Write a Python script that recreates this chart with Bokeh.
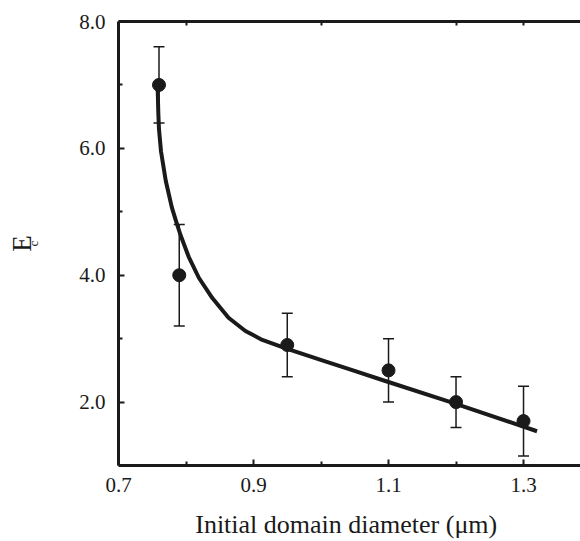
from bokeh.plotting import figure
from bokeh.models import (Range1d, LinearAxis, FixedTicker, PrintfTickFormatter,
                          Whisker, ColumnDataSource, TeeHead)
from bokeh.embed import file_html
from bokeh.resources import INLINE

# ---- data ----
diam = [0.76, 0.79, 0.95, 1.10, 1.20, 1.30]
ec = [7.0, 4.0, 2.9, 2.5, 2.0, 1.7]
err_hi = [7.6, 4.8, 3.4, 3.0, 2.4, 2.25]
err_lo = [6.4, 3.2, 2.4, 2.0, 1.6, 1.15]

curve_x = [0.758, 0.759, 0.760, 0.763, 0.770, 0.779, 0.785, 0.792, 0.804, 0.819,
           0.839, 0.863, 0.888, 0.913, 0.950, 1.004, 1.044, 1.093, 1.192, 1.320]
curve_y = [6.95, 6.55, 6.30, 5.95, 5.49, 5.07, 4.86, 4.63, 4.29, 3.96,
           3.64, 3.33, 3.12, 2.98, 2.84, 2.65, 2.51, 2.34, 2.00, 1.54]

x_ticks = [0.7, 0.9, 1.1, 1.3]
x_minor = [0.8, 1.0, 1.2]
y_ticks = [2.0, 4.0, 6.0, 8.0]
y_minor = [3.0, 5.0, 7.0]

FONT = "Liberation Serif"
INK = "#1a1a1a"

W, H = 580, 541
p = figure(width=W, height=H, output_backend="svg", toolbar_location=None,
           x_range=Range1d(0.7, 1.3844), y_range=Range1d(1.0, 8.0),
           x_axis_location=None, y_axis_location=None,
           min_border_left=118, min_border_right=0,
           min_border_top=21, min_border_bottom=76)
p.outline_line_color = None
for g in p.grid:
    g.visible = False


def style(ax):
    ax.axis_line_width = 3
    ax.axis_line_color = INK
    ax.major_tick_in = 6
    ax.major_tick_out = 0
    ax.minor_tick_in = 4
    ax.minor_tick_out = 0
    ax.major_tick_line_width = 2
    ax.minor_tick_line_width = 2
    ax.major_tick_line_color = INK
    ax.minor_tick_line_color = INK
    ax.major_label_text_font = FONT
    ax.major_label_text_font_size = "21px"
    ax.major_label_text_color = INK
    ax.axis_label_text_font = FONT
    ax.axis_label_text_font_style = "normal"
    ax.axis_label_text_color = INK


xb = LinearAxis(ticker=FixedTicker(ticks=x_ticks, minor_ticks=x_minor),
                formatter=PrintfTickFormatter(format="%.1f"))
style(xb)
xb.major_label_standoff = 12
xb.axis_label = "Initial domain diameter  (\u03bcm)"
xb.axis_label_text_font_size = "26px"
xb.axis_label_standoff = 15
p.add_layout(xb, "below")

yl = LinearAxis(ticker=FixedTicker(ticks=y_ticks, minor_ticks=y_minor),
                formatter=PrintfTickFormatter(format="%.1f"))
style(yl)
yl.major_label_standoff = 13
p.add_layout(yl, "left")

# subscript "c" of the y title, on an empty axis next to the tick labels
yc = LinearAxis(ticker=FixedTicker(ticks=[], minor_ticks=[]))
style(yc)
yc.axis_line_color = None
yc.axis_label = "c"
yc.axis_label_text_font_size = "13px"
yc.axis_label_standoff = 36
p.add_layout(yc, "left")

# main letter "E" of the y title
ye = LinearAxis(ticker=FixedTicker(ticks=[], minor_ticks=[]))
style(ye)
ye.axis_line_color = None
ye.axis_label = "E"
ye.axis_label_text_font_size = "27px"
ye.axis_label_standoff = -14
p.add_layout(ye, "left")

xt = LinearAxis(ticker=FixedTicker(ticks=[], minor_ticks=x_minor + [1.3]))
style(xt)
p.add_layout(xt, "above")

# fitted curve
p.line(curve_x, curve_y, line_width=4, line_color=INK, line_join="round")

# error bars
src = ColumnDataSource(dict(x=diam, upper=err_hi, lower=err_lo))
w = Whisker(source=src, base="x", upper="upper", lower="lower", dimension="height",
            line_width=1.5, line_color=INK,
            upper_head=TeeHead(size=11, line_width=1.5, line_color=INK),
            lower_head=TeeHead(size=11, line_width=1.5, line_color=INK))
p.add_layout(w)

p.scatter(diam, ec, size=13, fill_color=INK, line_color=INK)

open("out.html", "w").write(file_html(p, INLINE))
